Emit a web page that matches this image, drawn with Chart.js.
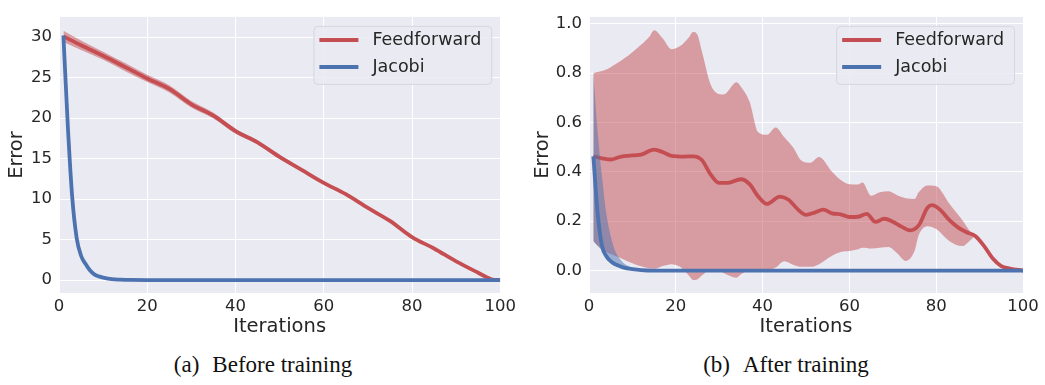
<!DOCTYPE html>
<html>
<head>
<meta charset="utf-8">
<script src="https://cdn.jsdelivr.net/npm/chart.js@4.4.1/dist/chart.umd.min.js"></script>
<style>
  body { margin: 0; background: #fff; width: 1045px; height: 385px; position: relative; overflow: hidden; }
  canvas { position: absolute; top: 0; }
  #chartA { left: 0; }
  #chartB { left: 520px; }
  .caption { position: absolute; top: 352px; font-family: "Liberation Serif", "Times New Roman", serif;
             font-size: 23px; color: #111; white-space: nowrap; transform: translateX(-50%); }
  .caption span { margin-right: 13px; }
</style>
</head>
<body>
<canvas id="chartA" width="520" height="345"></canvas>
<canvas id="chartB" width="525" height="345"></canvas>
<div class="caption" style="left:263px"><span>(a)</span>Before training</div>
<div class="caption" style="left:786px"><span>(b)</span>After training</div>
<script>
// tick labels
const xTicks = [0, 20, 40, 60, 80, 100];
const yTicksA = [0, 5, 10, 15, 20, 25, 30];
const yTicksB = [0.0, 0.2, 0.4, 0.6, 0.8, 1.0];
const seriesNames = ["Feedforward", "Jacobi"];

// (a) before training: feedforward
const ffA_x     = [1, 5, 10, 15, 20, 25, 30, 35, 40, 45, 50, 55, 60, 65, 70, 75, 80, 85, 90, 95, 98, 100];
const ffA_mean  = [30.1, 29.0, 27.7, 26.3, 24.9, 23.6, 21.7, 20.3, 18.4, 17.0, 15.2, 13.6, 12.0, 10.6, 8.9, 7.3, 5.3, 3.9, 2.3, 0.9, 0.1, 0];
const ffA_upper = [30.8, 29.6, 28.2, 26.8, 25.35, 24.05, 22.1, 20.65, 18.7, 17.25, 15.45, 13.8, 12.2, 10.8, 9.05, 7.45, 5.45, 4.05, 2.4, 1.0, 0.15, 0];
const ffA_lower = [29.4, 28.4, 27.2, 25.8, 24.45, 23.15, 21.3, 19.95, 18.1, 16.75, 14.95, 13.4, 11.8, 10.4, 8.75, 7.15, 5.15, 3.75, 2.2, 0.8, 0.05, 0];

// (a) before training: jacobi
const jacA_x    = [1, 2, 3, 4, 5, 6, 7, 8, 9, 10, 12, 14, 16, 20, 40, 60, 80, 100];
const jacA_mean = [30.2, 19.0, 10.2, 5.2, 3.0, 2.0, 1.2, 0.7, 0.45, 0.3, 0.1, 0.04, 0.01, 0, 0, 0, 0, 0];

// (b) after training: feedforward
const ffB_x    = [1, 3, 5, 7, 9, 12, 15, 17, 19, 22, 24, 26, 28, 30, 32, 35, 37, 39, 41, 44, 46, 48, 50, 52, 54, 56, 58, 60, 62, 64, 66, 68, 70, 72, 74, 76, 78, 79, 81, 83, 85, 87, 89, 91, 93, 95, 97, 100];
const ffB_mean = [0.463, 0.455, 0.45, 0.46, 0.465, 0.47, 0.49, 0.48, 0.465, 0.462, 0.463, 0.448, 0.39, 0.355, 0.355, 0.37, 0.35, 0.30, 0.27, 0.30, 0.287, 0.25, 0.226, 0.235, 0.247, 0.232, 0.228, 0.217, 0.218, 0.23, 0.197, 0.21, 0.198, 0.178, 0.163, 0.184, 0.255, 0.265, 0.245, 0.205, 0.175, 0.155, 0.14, 0.1, 0.05, 0.018, 0.008, 0];
const ffB_bandX = [1, 2, 4, 6, 8, 10, 12, 14, 15, 17, 19, 21, 23, 24, 25, 26, 28, 30, 31, 34, 35, 37, 39, 41, 43, 45, 47, 49, 51, 53, 56, 58, 60, 62, 63, 65, 67, 69, 71, 73, 75, 76, 78, 80, 83, 86, 88, 89, 91, 93, 95, 97, 100];
const ffB_upper = [0.80, 0.805, 0.815, 0.835, 0.858, 0.885, 0.915, 0.95, 0.974, 0.94, 0.897, 0.91, 0.945, 0.967, 0.955, 0.89, 0.755, 0.715, 0.713, 0.763, 0.745, 0.684, 0.56, 0.55, 0.58, 0.54, 0.50, 0.445, 0.437, 0.46, 0.40, 0.367, 0.35, 0.349, 0.357, 0.303, 0.317, 0.321, 0.305, 0.293, 0.29, 0.318, 0.345, 0.342, 0.272, 0.205, 0.155, 0.14, 0.1, 0.05, 0.018, 0.008, 0];
const ffB_lower = [0.12, 0.10, 0.075, 0.06, 0.045, 0.03, 0.017, 0.009, 0.007, 0.018, 0.026, 0.015, -0.02, -0.038, -0.035, -0.02, 0.002, 0, -0.01, -0.029, -0.015, 0, 0, 0, 0.012, 0.038, 0.024, 0.015, 0.015, 0.026, 0.06, 0.075, 0.079, 0.086, 0.092, 0.089, 0.092, 0.095, 0.07, 0.039, 0.079, 0.145, 0.18, 0.168, 0.12, 0.099, 0.125, 0.14, 0.1, 0.05, 0.018, 0.008, 0];

// (b) after training: jacobi
const jacB_x     = [1, 2, 3, 4, 5, 6, 7, 8, 10, 12, 15, 20, 40, 60, 80, 100];
const jacB_mean  = [0.463, 0.23, 0.10, 0.058, 0.038, 0.026, 0.018, 0.012, 0.006, 0.002, 0, 0, 0, 0, 0, 0];
const jacB_upper = [0.80, 0.56, 0.38, 0.23, 0.14, 0.08, 0.05, 0.03, 0.012, 0.005, 0.001, 0, 0, 0, 0, 0];
const jacB_lower = [0.12, 0.10, 0.08, 0.055, 0.028, 0.018, 0.012, 0.007, 0.003, 0.001, 0, 0, 0, 0, 0, 0];

const RED = "#C44E52";
const BLUE = "#4C72B0";
const RED_BAND = "rgba(196,78,82,0.5)";
const BLUE_BAND = "rgba(76,114,176,0.5)";
const TEXT = "#262626";
const FONT = "DejaVu Sans";

function pts(xs, ys) {
    return xs.map((x, i) => ({ x: x, y: ys[i] }));
}

function lineSet(label, xs, ys, color, order) {
    return {
        label: label, data: pts(xs, ys), borderColor: color, borderWidth: 3.8,
        pointRadius: 0, fill: false, cubicInterpolationMode: "monotone", order: order, isMain: true
    };
}

function bandSets(xs, upper, lower, color, order) {
    return [
        { data: pts(xs, upper), borderWidth: 0, borderColor: "transparent", backgroundColor: color,
          pointRadius: 0, fill: "+1", cubicInterpolationMode: "monotone", order: order },
        { data: pts(xs, lower), borderWidth: 0, borderColor: "transparent",
          pointRadius: 0, fill: false, cubicInterpolationMode: "monotone", order: order }
    ];
}

const bgPlugin = {
    id: "plotBg",
    beforeDraw(chart) {
        const { ctx, chartArea: a } = chart;
        ctx.save();
        ctx.fillStyle = "#EAEAF2";
        ctx.fillRect(a.left, a.top, a.right - a.left, a.bottom - a.top);
        ctx.restore();
    }
};

// legend drawn inside the plot, upper right, with a rounded frame
const legendPlugin = {
    id: "innerLegend",
    afterDraw(chart) {
        const { ctx, chartArea: a } = chart;
        const items = chart.data.datasets.filter(d => d.isMain);
        items.sort((p, q) => seriesNames.indexOf(p.label) - seriesNames.indexOf(q.label));
        ctx.save();
        ctx.font = "17.5px " + FONT;
        const tw = Math.max(...items.map(d => ctx.measureText(d.label).width));
        const w = 59 + tw + 10, h = 58;
        const right = a.right - 9, top = a.top + 9, left = right - w;
        ctx.beginPath();
        ctx.roundRect(left + 0.5, top + 0.5, w, h, 4);
        ctx.fillStyle = "rgba(234,234,242,0.85)";
        ctx.fill();
        ctx.strokeStyle = "#d6d6de";
        ctx.lineWidth = 1;
        ctx.stroke();
        items.forEach((d, i) => {
            const y = top + 14 + i * 27;
            ctx.beginPath();
            ctx.moveTo(left + 6, y);
            ctx.lineTo(left + 45, y);
            ctx.strokeStyle = d.borderColor;
            ctx.lineWidth = 4;
            ctx.stroke();
            ctx.fillStyle = TEXT;
            ctx.textBaseline = "middle";
            ctx.fillText(d.label, left + 59, y + 1);
        });
        ctx.restore();
    }
};

function makeOptions(yMin, yMax, yTicks, yFmt, yWidth, yTitlePad, padRight, padTop) {
    return {
        responsive: false,
        animation: false,
        devicePixelRatio: 1,
        layout: { padding: { top: padTop, right: padRight, left: 0, bottom: 0 } },
        plugins: { legend: { display: false }, tooltip: { enabled: false } },
        scales: {
            x: {
                type: "linear", min: 0, max: 100,
                afterBuildTicks: s => { s.ticks = xTicks.map(v => ({ value: v })); },
                afterFit: s => { s.height = 52; },
                grid: { color: "#ffffff", lineWidth: 1, drawTicks: false },
                border: { display: false },
                ticks: { color: TEXT, font: { family: FONT, size: 16.5 }, padding: 4, maxRotation: 0 },
                title: { display: true, text: "Iterations", color: TEXT,
                         font: { family: FONT, size: 19.5 }, padding: { top: 0, bottom: 6 } }
            },
            y: {
                type: "linear", min: yMin, max: yMax,
                afterBuildTicks: s => { s.ticks = yTicks.map(v => ({ value: v })); },
                afterFit: s => { s.width = yWidth; },
                grid: { color: "#ffffff", lineWidth: 1, drawTicks: false },
                border: { display: false },
                ticks: { color: TEXT, font: { family: FONT, size: 16.5 }, padding: 7, callback: yFmt },
                title: { display: true, text: "Error", color: TEXT,
                         font: { family: FONT, size: 19.5 }, padding: { top: yTitlePad, bottom: 0 } }
            }
        }
    };
}

new Chart(document.getElementById("chartA"), {
    type: "line",
    data: {
        datasets: [
            lineSet(seriesNames[1], jacA_x, jacA_mean, BLUE, 1),
            lineSet(seriesNames[0], ffA_x, ffA_mean, RED, 3),
            ...bandSets(ffA_x, ffA_upper, ffA_lower, RED_BAND, 4)
        ]
    },
    options: makeOptions(-1.6, 32.5, yTicksA, v => String(v), 59, 5, 19, 6),
    plugins: [bgPlugin, legendPlugin]
});

new Chart(document.getElementById("chartB"), {
    type: "line",
    data: {
        datasets: [
            lineSet(seriesNames[1], jacB_x, jacB_mean, BLUE, 1),
            ...bandSets(jacB_x, jacB_upper, jacB_lower, BLUE_BAND, 2),
            lineSet(seriesNames[0], ffB_x, ffB_mean, RED, 3),
            ...bandSets(ffB_bandX, ffB_upper, ffB_lower, RED_BAND, 4)
        ]
    },
    options: makeOptions(-0.091, 1.028, yTicksB, v => Number(v).toFixed(1), 69, 11, 22, 10),
    plugins: [bgPlugin, legendPlugin]
});
</script>
</body>
</html>
